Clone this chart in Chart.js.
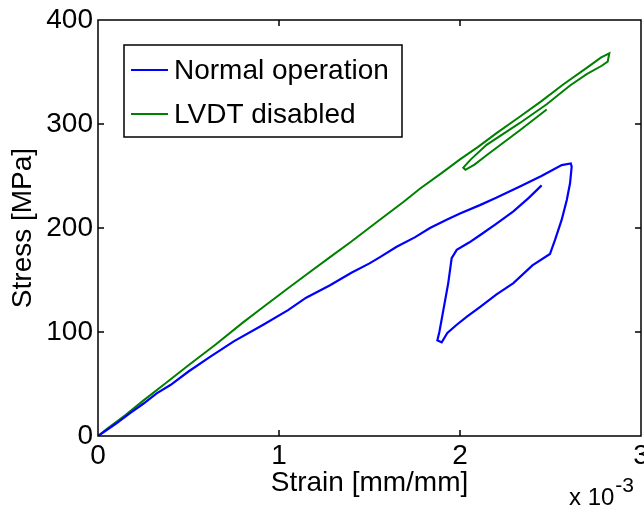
<!DOCTYPE html>
<html><head><meta charset="utf-8">
<style>html,body{margin:0;padding:0;background:#fff;}#wrap{width:644px;height:508px;}</style>
<script src="https://cdn.jsdelivr.net/npm/chart.js@4.4.0/dist/chart.umd.min.js"></script>
</head><body><div id="wrap"><canvas id="c" width="644" height="508"></canvas></div>
<script>
// ---- data (strain in units of 1e-3 mm/mm, stress in MPa) ----
const normalStrain = [0,0.05,0.10,0.177,0.25,0.324,0.40,0.50,0.619,0.75,0.913,1.05,1.15,1.282,1.40,1.50,1.558,1.650,1.75,1.834,1.926,2.00,2.11,2.20,2.331,2.45,2.562,2.612,2.617,2.608,2.59,2.562,2.525,2.497,2.40,2.295,2.20,2.11,2.04,1.982,1.93,1.899,1.875,1.886,1.908,1.935,1.954,1.982,2.05,2.11,2.20,2.295,2.38,2.451];
const normalStress = [0,6,12,22,31,41,49,62,76,91,107,121,133,145,157,166,172,182,191,200,208,214,222,229,240,250,260.5,262,259,243,227,208,188.5,175,164,147,136,124,115,107,99,90,92,100,121,147,171,179,186,193,204,216,229,241];
const lvdtStrain = [0,0.05,0.15,0.25,0.361,0.50,0.65,0.80,0.913,1.05,1.15,1.282,1.40,1.55,1.687,1.78,1.90,2.00,2.10,2.20,2.33,2.45,2.57,2.70,2.78,2.825,2.816,2.783,2.70,2.608,2.479,2.331,2.147,2.06,2.018,2.03,2.08,2.147,2.239,2.331,2.42,2.479];
const lvdtStress = [0,7,20,34,49,68,88,109,124,142,155,172,187,207,225,238,253,266,278,291,307,322,338,354,364,368,360,356,348,337,319,301,280,266,258,256,261,270,282,294,306,314];
const seriesLabels = ['Normal operation','LVDT disabled'];
const seriesColors = ['#0000ff','#008000'];
const xTicks = [0,1,2,3];
const yTicks = [0,100,200,300,400];
const xTitle = 'Strain [mm/mm]';
const yTitle = 'Stress [MPa]';
const xMultiplier = 'x 10';
const xExponent = '-3';

const FONT = '"Liberation Sans", Arial, Helvetica, sans-serif';

const toPts = (xs, ys) => xs.map((x, i) => ({x: x, y: ys[i]}));

const framePlugin = {
  id: 'frame',
  afterDatasetsDraw(chart) {
    const {ctx, chartArea: a, scales} = chart;
    ctx.save();
    ctx.strokeStyle = '#000';
    ctx.lineWidth = 1.5;
    ctx.strokeRect(a.left, a.top, a.right - a.left, a.bottom - a.top);
    const tl = 6;
    ctx.beginPath();
    scales.x.ticks.forEach(t => {
      if (t.value <= scales.x.min || t.value >= scales.x.max) return;
      const px = scales.x.getPixelForValue(t.value);
      ctx.moveTo(px, a.bottom); ctx.lineTo(px, a.bottom - tl);
      ctx.moveTo(px, a.top); ctx.lineTo(px, a.top + tl);
    });
    scales.y.ticks.forEach(t => {
      if (t.value <= scales.y.min || t.value >= scales.y.max) return;
      const py = scales.y.getPixelForValue(t.value);
      ctx.moveTo(a.left, py); ctx.lineTo(a.left + tl, py);
      ctx.moveTo(a.right, py); ctx.lineTo(a.right - tl, py);
    });
    ctx.stroke();

    // exponent label
    ctx.fillStyle = '#000';
    ctx.textBaseline = 'alphabetic';
    ctx.textAlign = 'left';
    ctx.font = '24px ' + FONT;
    const baseX = a.right - 72;
    ctx.fillText(xMultiplier, baseX, 505);
    const w = ctx.measureText(xMultiplier).width;
    ctx.font = '21px ' + FONT;
    ctx.fillText(xExponent, baseX + w + 1, 492);

    // legend
    const lx = a.left + 26, ly = a.top + 25, lw = 278, lh = 92;
    ctx.fillStyle = '#fff';
    ctx.fillRect(lx, ly, lw, lh);
    ctx.lineWidth = 1.5;
    ctx.strokeStyle = '#000';
    ctx.strokeRect(lx, ly, lw, lh);
    chart.data.datasets.forEach((ds, i) => {
      const yy = ly + 25 + i * 44;
      ctx.strokeStyle = ds.borderColor;
      ctx.lineWidth = 2;
      ctx.beginPath();
      ctx.moveTo(lx + 7, yy); ctx.lineTo(lx + 44, yy);
      ctx.stroke();
      ctx.fillStyle = '#000';
      ctx.font = '28px ' + FONT;
      ctx.textBaseline = 'middle';
      ctx.fillText(ds.label, lx + 50, yy + 1);
    });
    ctx.restore();
  }
};

new Chart(document.getElementById('c'), {
  type: 'scatter',
  data: {
    datasets: [
      {label: seriesLabels[0], data: toPts(normalStrain, normalStress), borderColor: seriesColors[0], backgroundColor: seriesColors[0], showLine: true, borderWidth: 2.2, pointRadius: 0, tension: 0, fill: false},
      {label: seriesLabels[1], data: toPts(lvdtStrain, lvdtStress), borderColor: seriesColors[1], backgroundColor: seriesColors[1], showLine: true, borderWidth: 2, pointRadius: 0, tension: 0, fill: false}
    ]
  },
  options: {
    responsive: false,
    animation: false,
    devicePixelRatio: 1,
    layout: {padding: {top: 20, right: 3, left: 0, bottom: 0}},
    plugins: {legend: {display: false}, tooltip: {enabled: false}},
    scales: {
      x: {
        type: 'linear', min: 0, max: 3,
        afterBuildTicks: s => { s.ticks = xTicks.map(v => ({value: v})); },
        afterFit: s => { s.height = 72; s.paddingLeft = 0; s.paddingRight = 0; },
        grid: {display: false, drawTicks: false},
        border: {display: false},
        ticks: {color: '#000', font: {family: FONT, size: 28}, padding: 3, maxRotation: 0, autoSkip: false},
        title: {display: true, text: xTitle, color: '#000', font: {family: FONT, size: 28}, padding: {top: 0, bottom: 8}}
      },
      y: {
        type: 'linear', min: 0, max: 400,
        afterBuildTicks: s => { s.ticks = yTicks.map(v => ({value: v})); },
        afterFit: s => { s.width = 98; s.paddingTop = 0; s.paddingBottom = 0; },
        grid: {display: false, drawTicks: false},
        border: {display: false},
        ticks: {color: '#000', font: {family: FONT, size: 28}, padding: 5, autoSkip: false},
        title: {display: true, text: yTitle, color: '#000', font: {family: FONT, size: 28}, padding: {top: 6, bottom: 0}}
      }
    }
  },
  plugins: [framePlugin]
});
</script></body></html>
